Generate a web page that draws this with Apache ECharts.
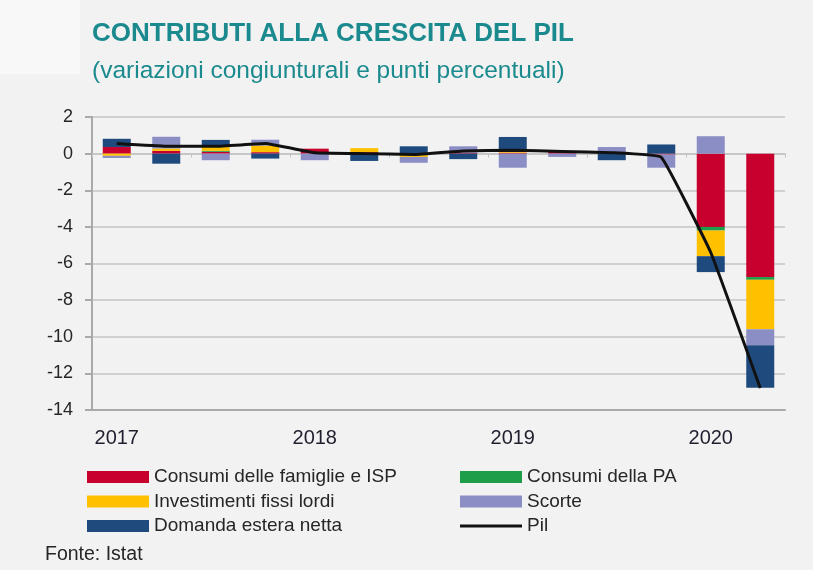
<!DOCTYPE html>
<html>
<head>
<meta charset="utf-8">
<title>Contributi alla crescita del PIL</title>
<script src="https://cdn.jsdelivr.net/npm/echarts@6/dist/echarts.min.js"></script>
<style>
  html, body { margin: 0; padding: 0; background: #f2f2f2; }
  #chart { width: 813px; height: 570px; }
</style>
</head>
<body>
<div id="chart"></div>
<script>
// trimestri 2017 T1 - 2020 T2
var quarters = ['I 2017', 'II 2017', 'III 2017', 'IV 2017',
  'I 2018', 'II 2018', 'III 2018', 'IV 2018',
  'I 2019', 'II 2019', 'III 2019', 'IV 2019',
  'I 2020', 'II 2020']
var yearTicks = ['2017', '2018', '2019', '2020']

// contributi in punti percentuali
var consumiFamiglie = [0.36, 0.15, 0.1, 0.08, 0.27, 0.08, 0, 0.05, 0.05, 0.1, 0, -0.05, -4.0, -6.74]
var consumiPA = [0, 0, 0.05, 0, 0, 0, 0, 0, 0, 0, 0, 0, -0.2, -0.15]
var investimenti = [-0.12, 0.13, 0.3, 0.36, 0, 0.22, -0.18, 0, 0.08, 0.05, 0, 0, -1.4, -2.7]
var scorte = [-0.12, 0.64, -0.36, 0.32, -0.36, 0, -0.32, 0.35, -0.77, -0.18, 0.36, -0.72, 0.95, -0.87]
var domandaEstera = [0.45, -0.55, 0.3, -0.27, 0, -0.4, 0.4, -0.3, 0.78, 0, -0.36, 0.5, -0.87, -2.32]
var pil = [0.55, 0.4, 0.4, 0.55, 0.05, 0.0, -0.05, 0.15, 0.18, 0.12, 0.05, -0.2, -5.4, -12.8]

var font = "'Liberation Sans Narrow', 'Arial Narrow', 'Liberation Sans', Arial, sans-serif"

var chart = echarts.init(document.getElementById('chart'))

function barSeries(name, data, color) {
  return {
    name: name,
    type: 'bar',
    stack: 'contributi',
    barWidth: 28,
    data: data,
    itemStyle: { color: color },
    animation: false
  }
}

// icona legenda del Pil: linea sottile (gli angoli invisibili fissano il riquadro)
var lineIcon = 'path://M0,0H0.01V0.01H0Z M0,4.5H62V7.5H0Z M61.99,11.99H62V12H61.99Z'

var legendBase = {
  orient: 'vertical',
  top: 467.5,
  padding: 0,
  icon: 'rect',
  itemWidth: 62,
  itemHeight: 12,
  itemGap: 5.5,
  itemStyle: { borderWidth: 0 },
  textStyle: { fontSize: 19, lineHeight: 19, color: '#262626', fontFamily: font }
}

chart.setOption({
  backgroundColor: '#f2f2f2',
  textStyle: { fontFamily: font },
  graphic: [
    {
      type: 'rect',
      left: 0,
      top: 0,
      shape: { width: 80, height: 74 },
      style: { fill: '#f8f8f8' },
      z: -1
    },
    {
      type: 'text',
      left: 45,
      top: 545,
      style: { text: 'Fonte: Istat', fontSize: 19.5, fontFamily: font, fill: '#262626' }
    }
  ],
  title: [
    {
      text: 'CONTRIBUTI ALLA CRESCITA DEL PIL',
      left: 92,
      top: 21,
      padding: 0,
      textStyle: { fontSize: 26, fontWeight: 'bold', color: '#1b8a8e', fontFamily: font }
    },
    {
      text: '(variazioni congiunturali e punti percentuali)',
      left: 92,
      top: 59,
      padding: 0,
      textStyle: { fontSize: 24.5, fontWeight: 'normal', color: '#1b8a8e', fontFamily: font }
    }
  ],
  grid: {
    left: 92,
    right: 28,
    top: 117,
    bottom: 160
  },
  legend: [
    Object.assign({}, legendBase, {
      left: 87,
      data: ['Consumi delle famiglie e ISP', 'Investimenti fissi lordi', 'Domanda estera netta']
    }),
    Object.assign({}, legendBase, {
      left: 460,
      data: ['Consumi della PA', 'Scorte', { name: 'Pil', icon: lineIcon }]
    })
  ],
  xAxis: [
    {
      type: 'category',
      data: quarters,
      position: 'bottom',
      axisLine: { onZero: false, lineStyle: { color: '#a9a9a9', width: 2 } },
      axisTick: { show: false },
      axisLabel: {
        interval: 0,
        margin: 18,
        fontSize: 20,
        color: '#1f1f2e',
        fontFamily: font,
        formatter: function(value, idx) {
          return idx % 4 === 0 ? yearTicks[idx / 4] : ''
        }
      },
      splitLine: { show: false }
    },
    {
      // asse allo zero, senza etichette
      type: 'category',
      data: quarters,
      position: 'bottom',
      axisLine: { onZero: true, lineStyle: { color: '#c4c4c4', width: 1.5 } },
      axisTick: { show: true, length: 4, lineStyle: { color: '#c4c4c4' } },
      axisLabel: { show: false },
      splitLine: { show: false }
    }
  ],
  yAxis: {
    type: 'value',
    min: -14,
    max: 2,
    interval: 2,
    axisLine: { show: true, lineStyle: { color: '#a9a9a9', width: 2 } },
    axisTick: { show: true, length: 7, lineStyle: { color: '#a9a9a9', width: 2 } },
    axisLabel: { margin: 19, fontSize: 18, color: '#262626', fontFamily: font },
    splitLine: { show: true, lineStyle: { color: '#c4c4c4', width: 1.5 } }
  },
  series: [
    barSeries('Consumi delle famiglie e ISP', consumiFamiglie, '#c8002d'),
    barSeries('Consumi della PA', consumiPA, '#1e9e48'),
    barSeries('Investimenti fissi lordi', investimenti, '#ffc000'),
    barSeries('Scorte', scorte, '#8b8ec4'),
    barSeries('Domanda estera netta', domandaEstera, '#1f4a7e'),
    {
      name: 'Pil',
      type: 'line',
      data: pil,
      smooth: 0.08,
      symbol: 'none',
      lineStyle: { color: '#111', width: 3 },
      itemStyle: { color: '#111' },
      z: 5,
      animation: false
    }
  ]
})
</script>
</body>
</html>
